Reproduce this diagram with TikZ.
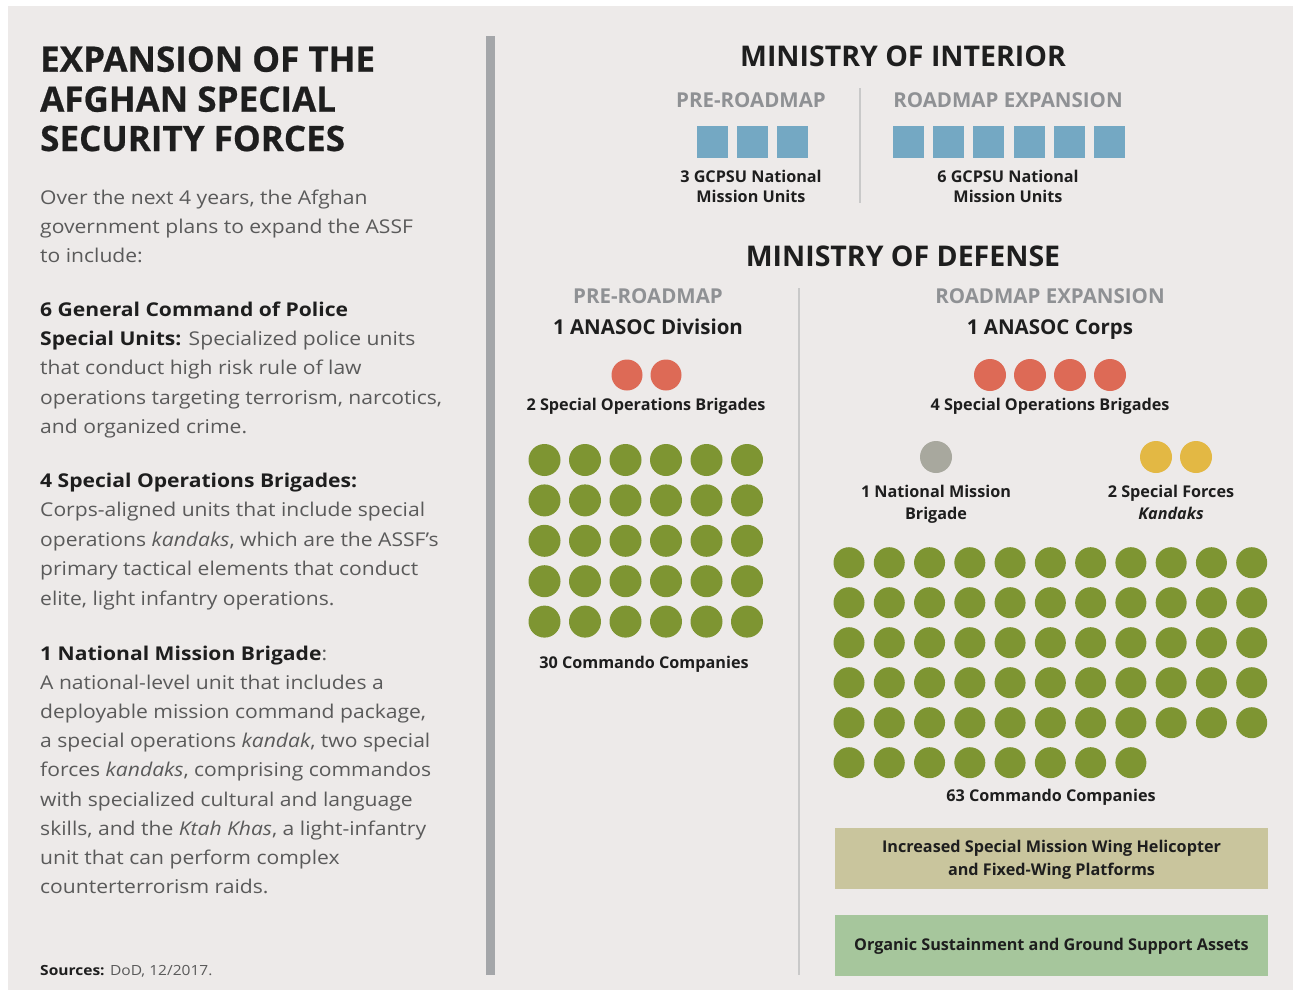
\documentclass[tikz,border=0pt]{standalone}
\usepackage{fontspec}
\setmainfont{Open Sans}
\newfontfamily\bodyfont[FakeStretch=1.11]{Open Sans}
\newfontfamily\titlefont[FakeBold=0.6]{Open Sans}
\definecolor{bg}{HTML}{EDEAE9}
\definecolor{divider}{HTML}{A4A6A9}
\definecolor{thindiv}{HTML}{C9C9C9}
\definecolor{dark}{HTML}{1E1E1E}
\definecolor{bodygray}{HTML}{5A5A5A}
\definecolor{subgray}{HTML}{8F9194}
\definecolor{sqblue}{HTML}{74A8C3}
\definecolor{cred}{HTML}{DD6A56}
\definecolor{cgreen}{HTML}{7E9532}
\definecolor{cgray}{HTML}{A8A89E}
\definecolor{cyellow}{HTML}{E3B844}
\definecolor{boxkhaki}{HTML}{C9C59D}
\definecolor{boxgreen}{HTML}{A6C69C}
\begin{document}
\begin{tikzpicture}[x=1pt,y=-1pt,
  titletext/.style={font=\titlefont\fontsize{35}{40}\selectfont\bfseries, text=dark, anchor=base west, inner sep=0},
  bodytext/.style={font=\bodyfont\fontsize{19}{22}\selectfont, text=bodygray, anchor=base west, inner sep=0},
  headtext/.style={font=\fontsize{28.5}{32}\selectfont\bfseries, text=dark, anchor=base, inner sep=0},
  subtext/.style={font=\fontsize{20.5}{24}\selectfont\bfseries, text=subgray, anchor=base, inner sep=0},
  unittext/.style={font=\fontsize{20.5}{24}\selectfont\bfseries, text=dark, anchor=base, inner sep=0},
  lbltext/.style={font=\fontsize{16.2}{18}\selectfont\bfseries, text=dark, anchor=base, inner sep=0},
  sqbox/.style={rectangle, fill=sqblue, minimum width=31, minimum height=32, inner sep=0},
  roundunit/.style={circle, inner sep=0, minimum size=31},
  infobox/.style={rectangle, minimum width=433, minimum height=61, inner sep=0}
]
\useasboundingbox (0,0) rectangle (1299,996);
\fill[white] (0,0) rectangle (1299,996);
\fill[bg] (8,6) rectangle (1293,990);
\fill[divider] (486,36) rectangle (495,975);
\draw[thindiv, line width=1.5] (860,88) -- (860,203);
\draw[thindiv, line width=1.5] (799,288) -- (799,975);

% ---------- left column ----------
\node[titletext] (t1) at (40,71.7) {EXPANSION OF THE};
\node[titletext] (t2) at (40,111.7) {AFGHAN SPECIAL};
\node[titletext] (t3) at (40,151) {SECURITY FORCES};

\foreach \ln [count=\i from 0] in {{Over the next 4 years, the Afghan},{government plans to expand the ASSF},{to include:}}
  \node[bodytext] (pa\i) at (40,204+\i*29.3) {\ln};

\foreach \ln [count=\i from 0] in {{\textbf{\color{dark}6 General Command of Police}},{\textbf{\color{dark}Special Units:} Specialized police units},{that conduct high risk rule of law},{operations targeting terrorism, narcotics,},{and organized crime.}}
  \node[bodytext] (pb\i) at (40,316.7+\i*29.1) {\ln};

\foreach \ln [count=\i from 0] in {{\textbf{\color{dark}4 Special Operations Brigades:}},{Corps-aligned units that include special},{operations \textit{kandaks}, which are the ASSF’s},{primary tactical elements that conduct},{elite, light infantry operations.}}
  \node[bodytext] (pc\i) at (40,487+\i*29.5) {\ln};

\foreach \ln [count=\i from 0] in {{\textbf{\color{dark}1 National Mission Brigade}:},{A national-level unit that includes a},{deployable mission command package,},{a special operations \textit{kandak}, two special},{forces \textit{kandaks}, comprising commandos},{with specialized cultural and language},{skills, and the \textit{Ktah Khas}, a light-infantry},{unit that can perform complex},{counterterrorism raids.}}
  \node[bodytext] (pd\i) at (40,660+\i*29.2) {\ln};

\node[bodytext, font=\bodyfont\fontsize{14}{16}\selectfont] (src) at (40,975) {\textbf{\color{dark}Sources:} DoD, 12/2017.};

% ---------- Ministry of Interior ----------
\node[headtext] (moi) at (903,66) {MINISTRY OF INTERIOR};
\node[subtext] (moipre) at (751,107) {PRE-ROADMAP};
\node[subtext] (moiexp) at (1008,107) {ROADMAP EXPANSION};
\foreach \k in {0,1,2}
  \node[sqbox] (ps\k) at (712+\k*40,141.5) {};
\foreach \k in {0,...,5}
  \node[sqbox] (es\k) at (908.5+\k*40.2,141.5) {};
\node[lbltext] (moil1) at (751,182) {3 GCPSU National};
\node[lbltext] (moil2) at (751,202) {Mission Units};
\node[lbltext] (moir1) at (1008,182) {6 GCPSU National};
\node[lbltext] (moir2) at (1008,202) {Mission Units};

% ---------- Ministry of Defense ----------
\node[headtext] (mod) at (903,266) {MINISTRY OF DEFENSE};
\node[subtext] (modpre) at (648,303.5) {PRE-ROADMAP};
\node[subtext] (modexp) at (1050,303.5) {ROADMAP EXPANSION};
\node[unittext] (div) at (648,334) {1 ANASOC Division};
\node[unittext] (corps) at (1050,334) {1 ANASOC Corps};

\foreach \k in {0,1}
  \node[roundunit, fill=cred] (pr\k) at (627+\k*39,375) {};
\node[lbltext] (prl) at (646,410) {2 Special Operations Brigades};

\foreach \r in {0,...,4}
  \foreach \c in {0,...,5}
    \node[roundunit, fill=cgreen, minimum size=32] (pg\r-\c) at (544.5+\c*40.5,460+\r*40.4) {};
\node[lbltext] (pgl) at (644,668) {30 Commando Companies};

\foreach \k in {0,...,3}
  \node[roundunit, fill=cred, minimum size=32] (er\k) at (990+\k*40,375) {};
\node[lbltext] (erl) at (1050,410) {4 Special Operations Brigades};

\node[roundunit, fill=cgray, minimum size=32] (nmb) at (936,457) {};
\node[lbltext] (nmbl1) at (936,497) {1 National Mission};
\node[lbltext] (nmbl2) at (936,519) {Brigade};

\foreach \k in {0,1}
  \node[roundunit, fill=cyellow, minimum size=32] (sf\k) at (1156+\k*40,457) {};
\node[lbltext] (sfl1) at (1171,497) {2 Special Forces};
\node[lbltext] (sfl2) at (1171,519) {\textit{Kandaks}};

\foreach \r in {0,...,4}
  \foreach \c in {0,...,10}
    \node[roundunit, fill=cgreen] (eg\r-\c) at (849+\c*40.27,562.7+\r*40) {};
\foreach \c in {0,...,7}
  \node[roundunit, fill=cgreen] (eg5-\c) at (849+\c*40.27,762.7) {};
\node[lbltext] (egl) at (1051,801.7) {63 Commando Companies};

\node[infobox, fill=boxkhaki] (smw) at (1051.5,858.8) {};
\node[lbltext] (smwl1) at (1051.5,852.7) {Increased Special Mission Wing Helicopter};
\node[lbltext] (smwl2) at (1051.5,875) {and Fixed-Wing Platforms};
\node[infobox, fill=boxgreen] (osg) at (1051.5,945) {};
\node[lbltext] (osgl) at (1051.5,950.7) {Organic Sustainment and Ground Support Assets};
\end{tikzpicture}
\end{document}
